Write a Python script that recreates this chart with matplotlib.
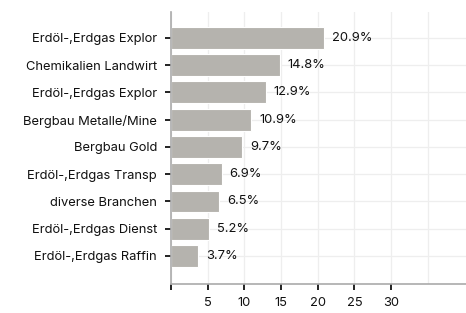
import matplotlib.pyplot as plt

plt.rcParams['font.family'] = ['Inter', 'DejaVu Sans']

# Branchen und Anteile in Prozent
branchen = ['Erdöl-,Erdgas Explor', 'Chemikalien Landwirt', 'Erdöl-,Erdgas Explor',
            'Bergbau Metalle/Mine', 'Bergbau Gold', 'Erdöl-,Erdgas Transp',
            'diverse Branchen', 'Erdöl-,Erdgas Dienst', 'Erdöl-,Erdgas Raffin']
anteile = [20.9, 14.8, 12.9, 10.9, 9.7, 6.9, 6.5, 5.2, 3.7]
x_ticks = [0, 5, 10, 15, 20, 25, 30]
x_labels = ['', '5', '10', '15', '20', '25', '30']

fig = plt.figure(figsize=(4.66, 3.13), dpi=100)
ax = fig.add_axes([171 / 466, 1 - 284 / 313, 1 - 171 / 466, (284 - 12) / 313])

fs = 9.3
pos = list(range(len(branchen)))
ax.barh(pos, anteile, height=0.8, color='#b5b3ae', edgecolor='white', linewidth=0.8, zorder=2)
for p, v in zip(pos, anteile):
    ax.text(v + 1.1, p, f'{v}%', va='center', ha='left', fontsize=fs, color='#111111')

ax.set_yticks(pos)
ax.set_yticklabels(branchen, fontsize=fs, color='#111111')
ax.set_ylim(9.03, -0.95)
ax.set_xlim(0, 40.2)
ax.set_xticks(x_ticks)
ax.set_xticklabels(x_labels, fontsize=fs, color='#111111')
ax.set_xticks([35], minor=True)

ax.grid(True, which='both', color='#eeeeee', linewidth=0.9, zorder=0)
ax.tick_params(axis='x', which='minor', length=0)
ax.tick_params(axis='both', which='major', length=4, width=1.3, color='#111111')
ax.tick_params(axis='y', pad=6)
ax.tick_params(axis='x', pad=5)
for s in ['top', 'right']:
    ax.spines[s].set_visible(False)
for s in ['left', 'bottom']:
    ax.spines[s].set_color('#aaaaaa')
    ax.spines[s].set_linewidth(1.2)
ax.set_axisbelow(True)

fig.savefig('out.png', dpi=100)
